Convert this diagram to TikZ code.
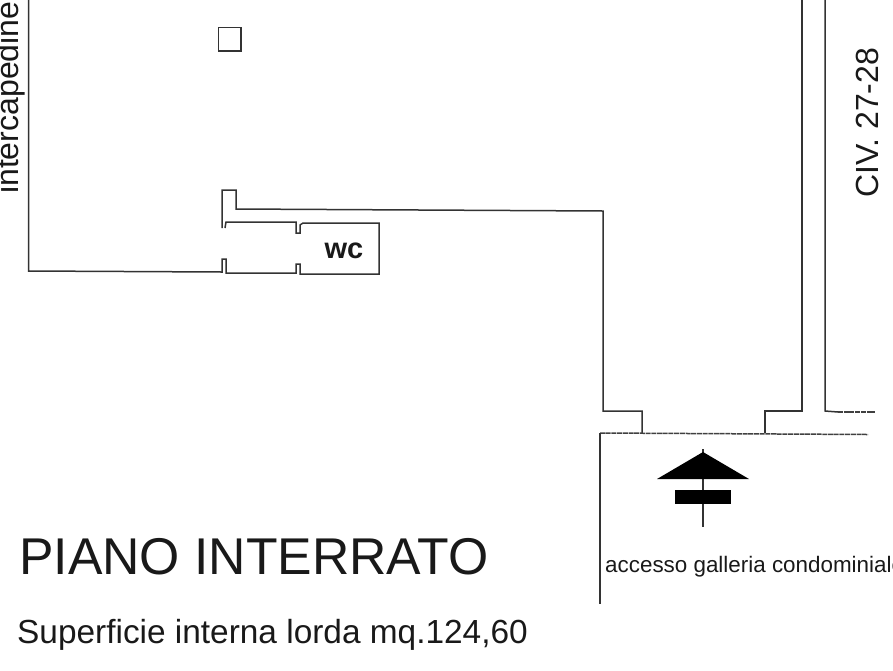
\documentclass[tikz,border=0pt]{standalone}
\usepackage{fontspec}
\setmainfont{Liberation Sans}
\usetikzlibrary{positioning}

\begin{document}
\begin{tikzpicture}[x=1pt,y=-1pt,
                wall/.style={draw=black!80,line width=1.5pt},
                dotted wall/.style={draw=black!75,line width=1.5pt,dash pattern=on 5pt off 0.7pt},
                label text/.style={inner sep=0pt,text=black!90}]

  \useasboundingbox (0,0) rectangle (893,670);
  \clip (0,0) rectangle (893,670);

  % room outline
  \draw[wall] (28.5,0) -- (28.5,271) -- (222,272) -- (222,259) -- (226,259) -- (226,273)
    -- (296,273) -- (296,264) -- (300,264) -- (300,274) -- (379,274) -- (379,223)
    -- (303,223) -- (300,225) -- (300,233) -- (296,233) -- (296,222) -- (226,222)
    -- (225,228);
  \draw[wall] (222,228) -- (222,190) -- (236,190) -- (236,209) -- (603,211) -- (603,411)
    -- (642,411) -- (642,433);
  \draw[wall] (802,0) -- (802,411) -- (765,411) -- (765,433);
  \draw[wall] (825,0) -- (825,411) -- (838,412);
  \draw[dotted wall] (838,412) -- (875,412);

  % pillar
  \draw[wall] (218.5,27.5) rectangle (241,51);

  % gallery
  \draw[dotted wall] (600,433) -- (868,434.5);
  \draw[wall,line width=1.8pt] (600,433) -- (600,604);

  % arrow
  \draw[wall] (703,449) -- (703,527);
  \fill[black] (703,452) -- (749,479) -- (657,479) -- cycle;
  \fill[black] (675,490) rectangle (731,504);

  \node[label text,font=\fontsize{29}{29}\selectfont\bfseries,anchor=base] (wc) at (344,258) {wc};
  \node[label text,font=\fontsize{32}{32}\selectfont,rotate=90,anchor=base west] (intercapedine) at (18,194) {intercapedine};
  \node[label text,font=\fontsize{32}{32}\selectfont,rotate=90,anchor=base west] (civ) at (878,198) {CIV. 27-28};
  \node[label text,font=\fontsize{22.4}{22.4}\selectfont,anchor=base west] (accesso) at (605,572) {accesso galleria condominiale};
  \node[label text,font=\fontsize{51.7}{51.7}\selectfont,anchor=base west] (piano) at (19,574) {PIANO INTERRATO};
  \node[label text,font=\fontsize{33.4}{33.4}\selectfont,anchor=base west] (superficie) at (17,643) {Superficie interna lorda mq.124,60};

\end{tikzpicture}
\end{document}
